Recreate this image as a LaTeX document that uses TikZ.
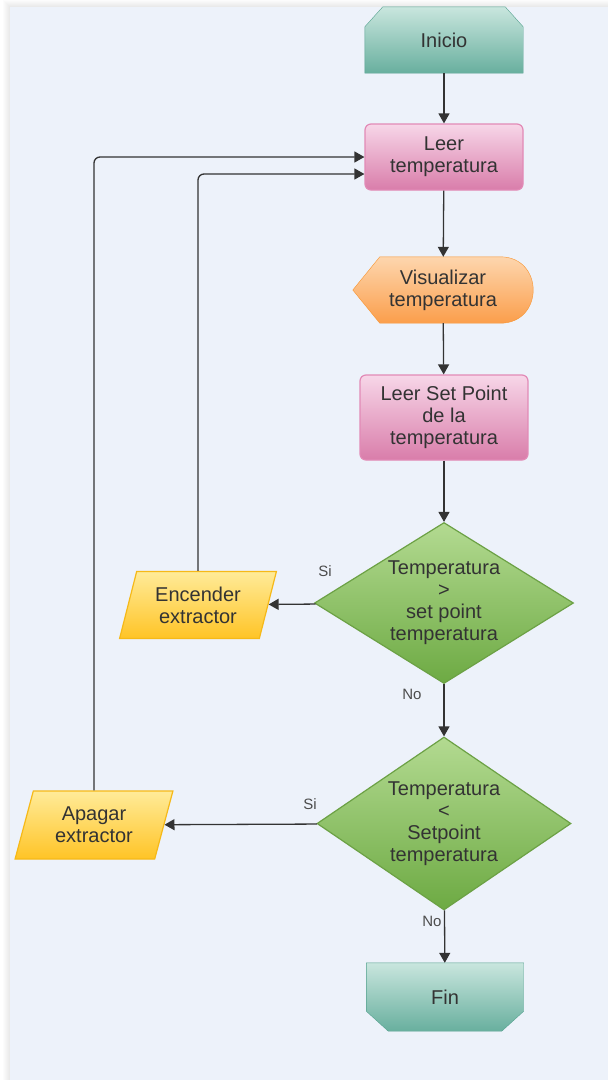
\documentclass[tikz,border=0pt]{standalone}
\usepackage{fontspec}
\setmainfont{Liberation Sans}
\usetikzlibrary{arrows.meta,backgrounds,shapes.geometric}
\definecolor{panel-blue}{HTML}{EDF2FA}
\definecolor{teal-top}{HTML}{C9E6DE}
\definecolor{teal-bottom}{HTML}{68AF9E}
\definecolor{teal-line}{HTML}{55A28F}
\definecolor{pink-top}{HTML}{F7D6E8}
\definecolor{pink-bottom}{HTML}{D97DAA}
\definecolor{pink-line}{HTML}{E28AB6}
\definecolor{orange-top}{HTML}{FDD6AE}
\definecolor{orange-bottom}{HTML}{FB9E4B}
\definecolor{orange-line}{HTML}{F8942F}
\definecolor{yellow-top}{HTML}{FFEB99}
\definecolor{yellow-bottom}{HTML}{FFC426}
\definecolor{yellow-line}{HTML}{F6B918}
\definecolor{green-top}{HTML}{B3DA91}
\definecolor{green-bottom}{HTML}{6DAA43}
\definecolor{green-line}{HTML}{6CA145}
\definecolor{text-grey}{HTML}{333333}

\begin{document}
\begin{tikzpicture}[
    x=1pt, y=-1pt,
    every node/.style={
        font=\fontsize{20}{22}\selectfont, text=text-grey, align=center, inner sep=0pt,
    },
    term/.style={ minimum width=158pt, minimum height=66pt, },
    proc/.style={
        draw=pink-line, line width=1.2pt, top color=pink-top, bottom color=pink-bottom,
        rounded corners=6pt, minimum width=158pt, minimum height=66pt,
    },
    io/.style={
        trapezium, trapezium left angle=72, trapezium right angle=108, trapezium stretches=true,
        draw=yellow-line, line width=1.2pt, top color=yellow-top, bottom color=yellow-bottom,
        minimum width=157pt, minimum height=67pt,
    },
    decision/.style={
        diamond, aspect=1.6, draw=green-line, line width=1.2pt,
        top color=green-top, bottom color=green-bottom,
        minimum width=259pt, minimum height=161pt,
    },
    flow/.style={
        draw=text-grey, line width=1.3pt, rounded corners=6pt,
        -{Triangle[length=10pt,width=11pt]},
    },
    lbl/.style={ font=\fontsize{15}{18}\selectfont, text=black!70, },
]
\useasboundingbox (0,0) rectangle (608,1080);

\begin{scope}[on background layer]
    \fill[white] (0,0) rectangle (608,1080);
    \foreach \s in {1,...,7}
        \fill[black, opacity=.012] (10-\s,7-\s) rectangle (608,1080);
    \fill[panel-blue] (10,7) rectangle (608,1080);
\end{scope}

\node[term] (start) at (444,40) {Inicio};
\node[proc] (read) at (444,157) {Leer\\temperatura};
\node[term, minimum width=180pt] (show) at (443,290) {Visualizar\\temperatura};
\node[proc, minimum width=168pt, minimum height=85pt] (setp) at (444,417.5) {Leer Set Point\\de la\\temperatura};
\node[decision] (d1) at (444,603) {Temperatura\\>\\set point\\temperatura};
\node[io] (on) at (198,605) {Encender\\extractor};
\node[decision, minimum width=254pt, minimum height=173pt, aspect=1.47] (d2) at (444,823.5) {Temperatura\\<\\Setpoint\\temperatura};
\node[io, minimum width=158pt, minimum height=68pt] (off) at (94,825) {Apagar\\extractor};
\node[term, minimum width=157pt, minimum height=68pt] (stop) at (445,997) {Fin};

\begin{scope}[on background layer, line width=1.2pt]
    \shade[draw=teal-line, top color=teal-top, bottom color=teal-bottom]
        (start.south west) -- ([yshift=-20pt]start.north west) -- ([xshift=18pt]start.north west)
        -- ([xshift=-18pt]start.north east) -- ([yshift=-20pt]start.north east) -- (start.south east) -- cycle;
    \shade[draw=orange-line, top color=orange-top, bottom color=orange-bottom]
        (show.west) -- ([xshift=27pt]show.north west) -- ([xshift=-33pt]show.north east)
        .. controls ([xshift=11pt]show.north east) and ([xshift=11pt]show.south east) .. ([xshift=-33pt]show.south east)
        -- ([xshift=27pt]show.south west) -- cycle;
    \shade[draw=teal-line, top color=teal-top, bottom color=teal-bottom]
        (stop.north west) -- (stop.north east) -- ([yshift=20pt]stop.south east)
        -- ([xshift=-22pt]stop.south east) -- ([xshift=22pt]stop.south west) -- ([yshift=20pt]stop.south west) -- cycle;
\end{scope}

\draw[flow] (start) -- (read);
\draw[flow] (read) -- (show);
\draw[flow] (show) -- (setp);
\draw[flow] (setp) -- (d1);
\draw[flow] (d1) -- (on);
\draw[flow] (d1) -- (d2);
\draw[flow] (d2) -- (off);
\draw[flow] (d2) -- (stop);
\draw[flow] (on) |- ([yshift=-17pt]read.west);
\draw[flow] (off) |- (read.west);

\node[lbl] (si-on) at (325,571) {Si};
\node[lbl] (no-on) at (412,694) {No};
\node[lbl] (si-off) at (310,804) {Si};
\node[lbl] (no-off) at (432,921) {No};
\end{tikzpicture}
\end{document}
